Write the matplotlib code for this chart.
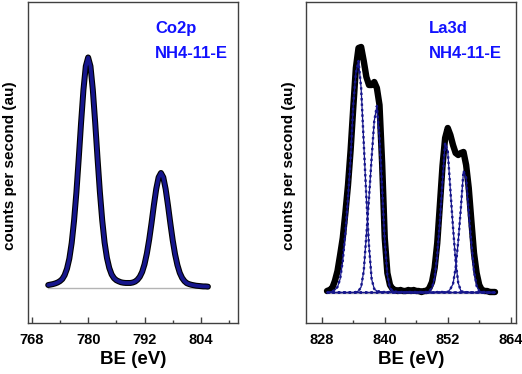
import matplotlib.pyplot as plt
import numpy as np

plt.rcParams['font.family'] = ['Liberation Sans', 'DejaVu Sans']

# Co2p spectrum, 0.5 eV steps (counts above background, arbitrary units)
co_be = np.arange(771.5, 805.75, 0.5)
co_counts = [13, 15, 17, 20, 24, 30, 39, 56, 84, 128,
             196, 292, 415, 563, 719, 861, 964, 1002, 964, 861,
             719, 564, 417, 294, 198, 131, 87, 59, 43, 34,
             29, 25, 23, 22, 22, 22, 24, 28, 36, 49,
             70, 103, 150, 211, 283, 361, 431, 481, 500, 481,
             430, 359, 281, 208, 147, 100, 66, 44, 30, 21,
             17, 14, 12, 10, 9, 8, 7, 7, 6]

# La3d spectrum, 0.5 eV steps: measured counts and four fitted components
la_be = np.arange(829.0, 861.25, 0.5)
la_counts = [2, 3, 5, 12, 22, 38, 55, 80, 108, 143,
             185, 225, 245, 246, 232, 216, 208, 208, 211, 205,
             188, 130, 55, 20, 8, 4, 3, 2, 3, 2,
             2, 3, 2, 3, 2, 2, 1, 2, 2, 5,
             11, 25, 50, 88, 127, 155, 165, 158, 148, 140,
             138, 140, 141, 128, 105, 72, 40, 20, 8, 3,
             2, 2, 1, 1, 1]
la_comp1 = [0.5, 1, 1.5, 3, 6, 14, 32, 60, 95, 135,
            188, 220, 232, 205, 150, 95, 47, 14, 4, 2,
            1.5, 1, 1, 1, 1, 1, 0.5] + [0.5] * 38
la_comp2 = [0.5] * 11 + [1, 2, 6, 22, 58, 95, 135, 172, 187, 155,
                         105, 52, 18, 5, 2, 1.5, 1, 1, 1, 1] + [0.5] * 34
la_comp3 = [0.5] * 30 + [1] * 8 + [1, 2, 5, 15, 38, 72, 112, 150, 142, 103,
                                   66, 32, 10, 2, 1, 1] + [0.5] * 11
la_comp4 = [0.5] * 42 + [1] * 4 + [1, 4, 9, 25, 52, 85, 122, 115, 80, 50,
                                   22, 7, 2, 1, 1, 0.5, 0.5, 0.5, 0.5]

black = 'black'
navy = '#16168c'
text_blue = '#1212ff'
frame = '#404040'

fig = plt.figure(figsize=(5.22, 3.74), dpi=100)
ax1 = fig.add_axes([28 / 522, 1 - 323 / 374, 210 / 522, 321 / 374])
ax2 = fig.add_axes([306 / 522, 1 - 323 / 374, 210 / 522, 321 / 374])

# left: Co2p
ax1.plot([co_be[0], co_be[-1]], [0, 0], color='#b4b4b4', lw=1, zorder=1)
ax1.plot(co_be, co_counts, color=black, lw=4.3, solid_capstyle='round',
         solid_joinstyle='round', zorder=2)
ax1.plot(co_be, co_counts, color=navy, lw=2.7, solid_capstyle='round',
         solid_joinstyle='round', zorder=3)
ax1.set_xlim(767.2, 811.9)
ax1.set_ylim(-152, 1243)
ax1.set_xticks([768, 780, 792, 804], ['768', '780', '792', '804'], fontweight='bold')
ax1.set_xticks([774, 786, 798, 810], minor=True)
ax1.text(0.605, 0.903, 'Co2p', transform=ax1.transAxes, color=text_blue,
         fontsize=12, fontweight='bold', va='baseline')
ax1.text(0.605, 0.826, 'NH4-11-E', transform=ax1.transAxes, color=text_blue,
         fontsize=12, fontweight='bold', va='baseline')

# right: La3d
ax2.plot([la_be[0], la_be[-1]], [0, 0], color='#b4b4b4', lw=1, zorder=1)
ax2.plot(la_be, la_counts, color=black, lw=4.6, solid_capstyle='round',
         solid_joinstyle='round', zorder=2)
for comp in [la_comp1, la_comp2, la_comp3, la_comp4]:
    ax2.plot(la_be, comp, color=navy, lw=0.9, zorder=3)
    ax2.plot(la_be, comp, color=navy, lw=1.7, ls=(0, (1, 1.3)), zorder=3)
ax2.set_xlim(825.0, 865.0)
ax2.set_ylim(-30, 291)
ax2.set_xticks([828, 840, 852, 864], ['828', '840', '852', '864'], fontweight='bold')
ax2.set_xticks([834, 846, 858], minor=True)
ax2.text(0.586, 0.903, 'La3d', transform=ax2.transAxes, color=text_blue,
         fontsize=12, fontweight='bold', va='baseline')
ax2.text(0.586, 0.826, 'NH4-11-E', transform=ax2.transAxes, color=text_blue,
         fontsize=12, fontweight='bold', va='baseline')

for ax in [ax1, ax2]:
    ax.set_yticks([])
    for s in ax.spines.values():
        s.set_color(frame)
        s.set_linewidth(1.0)
    ax.tick_params(axis='x', which='major', direction='in', length=4, width=1,
                   color=frame, pad=7, labelsize=10.5)
    ax.tick_params(axis='x', which='minor', direction='in', length=2.5, width=1,
                   color=frame)
    ax.set_xlabel('BE (eV)', fontsize=13.5, fontweight='bold', labelpad=3)

fig.text(10 / 522, 1 - 166 / 374, 'counts per second (au)', rotation=90,
         ha='center', va='center', fontsize=11, fontweight='bold')
fig.text(289 / 522, 1 - 166 / 374, 'counts per second (au)', rotation=90,
         ha='center', va='center', fontsize=11, fontweight='bold')

fig.savefig('out.png', dpi=100)
